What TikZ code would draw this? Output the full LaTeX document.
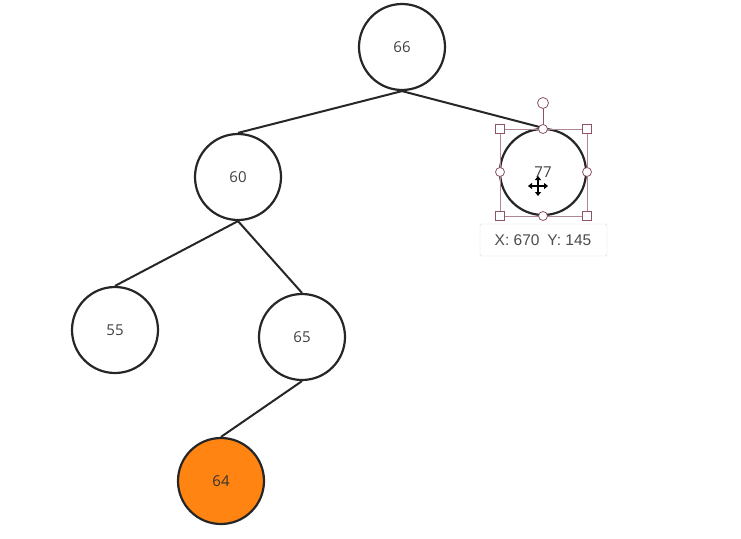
\documentclass[tikz,border=0pt]{standalone}
\usepackage{fontspec}
\setmainfont{Open Sans}
\newfontfamily\tipfont{Liberation Sans}
\usetikzlibrary{arrows.meta}
\definecolor{orangeknot}{HTML}{FF8412}
\definecolor{griffrand}{HTML}{8E5368}
\begin{document}
\begin{tikzpicture}[x=1pt,y=-1pt,
	knot/.style={circle,draw=black!85,line width=2.2pt,minimum size=86pt,inner sep=0pt,font=\fontsize{15}{17}\selectfont,text=black!75,fill=white},
	kante/.style={line width=2pt,draw=black!85},
	griff/.style={draw=griffrand,fill=white,line width=0.8pt}]
		\useasboundingbox (0,0) rectangle (741,538);
		\node[knot](n66)at(402,47){66}; %Wurzel
		\node[knot](n60)at(238,177){60};
		\node[knot](n77)at(543,172){77};
		\node[knot](n55)at(115,330){55};
		\node[knot](n65)at(302,337){65};
		\node[knot,fill=orangeknot,text=black!80](n64)at(221,481){64}; %neu
		\draw[kante](n66.south)--(n60.north);
		\draw[kante](n66.south)--(n77.north);
		\draw[kante](n60.south)--(n55.north);
		\draw[kante](n60.south)--(n65.north);
		\draw[kante](n65.south)--(n64.north);
		% Auswahl um 77
		\draw[griffrand!70,line width=0.6pt](500,129)rectangle(587,216);
		\draw[griffrand,line width=0.8pt](543,108)--(n77.north);
		\draw[griff](543,103)circle(5.5);
		\foreach \x/\y in {500/129,587/129,500/216,587/216}
			\draw[griff](\x-4.5,\y-4.5)rectangle(\x+4.5,\y+4.5);
		\foreach \x/\y in {543/129,500/172,587/172,543/216}
			\draw[griff](\x,\y)circle(4.5);
		% Cursor
		\coordinate(cur)at(538,186);
		\foreach \dx/\dy in {0/-10,0/10,-10/0,10/0}
			\draw[line width=1.2pt,-{Triangle[length=4pt,width=6pt]}](cur)--++(\dx,\dy);
		% Tooltip
		\draw[black!15,fill=white,rounded corners=2pt](480,224)rectangle(607,256);
		\node[font=\tipfont\fontsize{15.5}{18}\selectfont,text=black!70](tip)at(543,240){X: 670\enspace Y: 145};
	\end{tikzpicture}
\end{document}
